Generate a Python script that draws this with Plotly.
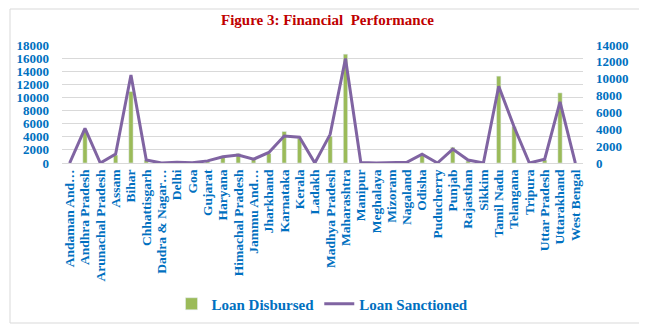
import plotly.graph_objects as go

states = ["Andaman And…", "Andhra Pradesh", "Arunachal Pradesh", "Assam", "Bihar",
          "Chhattisgarh", "Dadra & Nagar…", "Delhi", "Goa", "Gujarat", "Haryana",
          "Himachal Pradesh", "Jammu And…", "Jharkhand", "Karnataka", "Kerala", "Ladakh",
          "Madhya Pradesh", "Maharashtra", "Manipur", "Meghalaya", "Mizoram", "Nagaland",
          "Odisha", "Puducherry", "Punjab", "Rajasthan", "Sikkim", "Tamil Nadu",
          "Telangana", "Tripura", "Uttar Pradesh", "Uttarakhand", "West Bengal"]

loan_disbursed = [0, 5000, 0, 1200, 10900, 450, 0, 50, 20, 200, 1050,
                  1450, 550, 1450, 4800, 3750, 0,
                  4100, 16600, 0, 0, 0, 50,
                  1200, 0, 2400, 300, 0, 13250,
                  5550, 0, 450, 10700, 0]

loan_sanctioned = [0, 4100, 0, 1050, 10450, 350, 0, 100, 30, 250, 750,
                   950, 450, 1250, 3200, 3050, 0,
                   3400, 12400, 50, 0, 0, 80,
                   1050, 0, 1650, 350, 0, 9100,
                   4300, 0, 450, 7250, 0]

blue = "#0070C0"
ff = "Liberation Serif, Times New Roman, serif"

fig = go.Figure()
fig.add_trace(go.Bar(x=states, y=loan_disbursed, name="Loan Disbursed",
                     marker_color="#9BBB59", yaxis="y"))
fig.add_trace(go.Scatter(x=states, y=loan_sanctioned, name="Loan Sanctioned",
                         mode="lines", line=dict(color="#8064A2", width=3),
                         yaxis="y2"))

tf = dict(size=13, color=blue, family=ff, weight="bold")

# page body adds an 8px offset, so the figure is sized/offset to compensate
W, H = 639, 317
L, T, PW, PH = 54, 37, 521, 118
fig.update_layout(
    width=W, height=H,
    margin=dict(l=L, r=W - L - PW, t=T, b=H - T - PH, autoexpand=False),
    paper_bgcolor="white", plot_bgcolor="white",
    bargap=0.72,
    title=dict(text="Figure 3: Financial  Performance", x=0.5, xanchor="center",
               y=1 - 12 / H, yanchor="middle",
               font=dict(family=ff, size=15, color="#C00000", weight="bold")),
    font=dict(family=ff, color=blue),
    xaxis=dict(tickangle=-90, tickmode="linear", dtick=1, tick0=0,
               tickfont=dict(size=13.5, color=blue, family=ff, weight="bold"),
               showline=True, linecolor="#D9D9D9", linewidth=1, ticks="",
               showgrid=False, automargin=False),
    yaxis=dict(range=[0, 18000], dtick=2000, showgrid=True, gridcolor="#D9D9D9",
               tickfont=tf, zeroline=False, ticks="", tickformat="d", automargin=False,
               ticklabelstandoff=12),
    yaxis2=dict(range=[0, 14000], dtick=2000, overlaying="y", side="right",
                showgrid=False, zeroline=False, automargin=False,
                tickfont=tf, tickformat="d", ticklabelstandoff=12),
    legend=dict(orientation="h", x=0.5, xanchor="center", y=-(296 - T - PH) / PH,
                yanchor="middle", itemwidth=30,
                font=dict(size=15, color=blue, family=ff, weight="bold")),
    shapes=[dict(type="rect", xref="paper", yref="paper",
                 x0=-(L - 2) / PW, x1=1 + (W - L - PW - 4) / PW,
                 y0=-(H - T - PH - 2) / PH, y1=1 + (T - 1) / PH,
                 line=dict(color="#D9D9D9", width=1))],
)

fig.write_html("out.html")
